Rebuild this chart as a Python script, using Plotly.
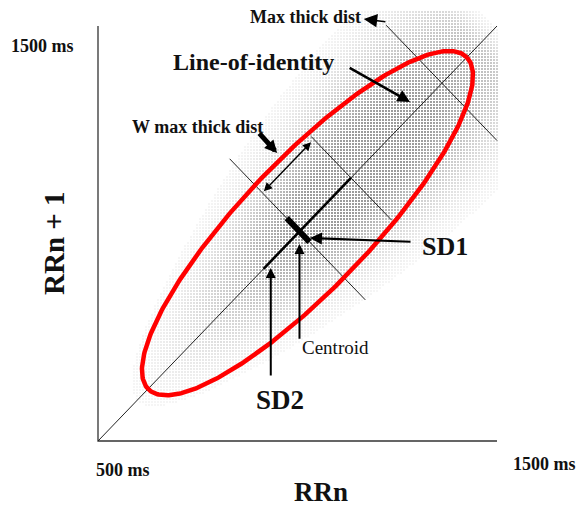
import numpy as np
import plotly.graph_objects as go

# Poincaré plot schematic: RR interval n against RR interval n+1 (ms)
AXIS_MIN, AXIS_MAX = 500, 1500
identity_ends = [500, 1500]

# centroid position along the line of identity (ms)
centroid_ms = 1005

# cross-lines perpendicular to the identity line: position along the line,
# and signed half-lengths toward the upper-left (+) and lower-right (-)
cross_pos = [1005, 1134, 1362]
cross_up = [175, 100, 140]
cross_down = [-165, -102, -138]

# highlighted stretch of the identity line (SD2 direction)
sd2_span = [915, 1134]
# SD1 bar across the centroid (perpendicular offsets)
sd1_span = [32, -25]
# "W max thick dist" measure, parallel to the identity line
w_offset = 93
w_span = [1005, 1127]

# fitted ellipse
ellipse_center = [1025, 1025]
ellipse_axes = [565, 158]      # semi-major, semi-minor
ellipse_angle_deg = 45

# page geometry: the plot area covers the whole page, origin of the
# RR axes sits at pixel (98, 441)
W, H = 577, 506
ORIGIN_PX = (98, 441)
PX_PER_MS = (0.399, 0.415)
x_range = [AXIS_MIN - ORIGIN_PX[0] / PX_PER_MS[0], AXIS_MIN + (W - ORIGIN_PX[0]) / PX_PER_MS[0]]
y_range = [AXIS_MIN - (H - ORIGIN_PX[1]) / PX_PER_MS[1], AXIS_MIN + ORIGIN_PX[1] / PX_PER_MS[1]]


def on_identity(t, d=0.0):
    """Point at position t along the identity line, offset d perpendicular."""
    return t - d, t + d


fig = go.Figure()

# --- halftone shading of the RR scatter cloud ---------------------------
gx = np.arange(AXIS_MIN, AXIS_MAX + 1, 3 / PX_PER_MS[0])
gy = np.arange(AXIS_MIN, AXIS_MAX + 40, 3 / PX_PER_MS[1])
GX, GY = np.meshgrid(gx, gy)
T = (GX + GY) / 2
D = (GY - GX) / 2
spread = np.clip(76 + (T - centroid_ms) * 0.05, 35, 92)
dens = np.exp(-0.5 * ((T - 1160) / 250) ** 2) * np.exp(-0.5 * (D / spread) ** 2)
dens = dens * np.where(T > 1440, np.exp(-((T - 1440) / 45) ** 2), 1.0)
keep = dens > 0.08
fig.add_trace(go.Scatter(
    x=GX[keep], y=GY[keep], mode="markers",
    marker=dict(symbol="square", size=1.5, color="#000",
                opacity=np.clip(dens[keep] * 0.85, 0, 0.7).tolist(),
                line=dict(width=0)),
    hoverinfo="skip", showlegend=False))

# --- axes -----------------------------------------------------------------
fig.add_trace(go.Scatter(x=[AXIS_MIN, AXIS_MIN, AXIS_MAX], y=[AXIS_MAX, AXIS_MIN, AXIS_MIN],
                         mode="lines", line=dict(color="#333", width=1.3),
                         hoverinfo="skip", showlegend=False))

# --- line of identity -----------------------------------------------------
fig.add_trace(go.Scatter(x=identity_ends, y=identity_ends, mode="lines",
                         line=dict(color="#222", width=1), hoverinfo="skip", showlegend=False))
fig.add_trace(go.Scatter(x=sd2_span, y=sd2_span, mode="lines",
                         line=dict(color="#000", width=2.6), hoverinfo="skip", showlegend=False))

# --- perpendicular cross-lines --------------------------------------------
for t, up, dn in zip(cross_pos, cross_up, cross_down):
    x0, y0 = on_identity(t, up)
    x1, y1 = on_identity(t, dn)
    fig.add_trace(go.Scatter(x=[x0, x1], y=[y0, y1], mode="lines",
                             line=dict(color="#222", width=1), hoverinfo="skip", showlegend=False))

# --- SD1 bar ----------------------------------------------------------------
p0 = on_identity(centroid_ms, sd1_span[0])
p1 = on_identity(centroid_ms, sd1_span[1])
fig.add_trace(go.Scatter(x=[p0[0], p1[0]], y=[p0[1], p1[1]], mode="lines",
                         line=dict(color="#000", width=6), hoverinfo="skip", showlegend=False))

# --- ellipse --------------------------------------------------------------
th = np.linspace(0, 2 * np.pi, 400)
ang = np.deg2rad(ellipse_angle_deg)
eu = ellipse_axes[0] * np.cos(th)
ev = ellipse_axes[1] * np.sin(th)
ex = ellipse_center[0] + eu * np.cos(ang) - ev * np.sin(ang)
ey = ellipse_center[1] + eu * np.sin(ang) + ev * np.cos(ang)
fig.add_trace(go.Scatter(x=ex, y=ey, mode="lines", line=dict(color="#ff0000", width=4.5),
                         hoverinfo="skip", showlegend=False))

# --- arrows -----------------------------------------------------------------
def arrow(head, tail, width=2.0, size=1.0, head_style=2, side="end"):
    fig.add_annotation(x=head[0], y=head[1], ax=tail[0], ay=tail[1],
                       xref="x", yref="y", axref="x", ayref="y", text="",
                       showarrow=True, arrowhead=head_style, arrowsize=size,
                       arrowwidth=width, arrowcolor="#000", arrowside=side,
                       standoff=0, startstandoff=0)


# SD1 pointer
arrow(on_identity(centroid_ms + 5, -21), (1287, 980), width=2.2, size=1.1)
# centroid pointer (vertical)
cx_ = on_identity(centroid_ms, 0)[0]
arrow((cx_, 975), (cx_, 743), width=2.0, size=1.0)
# SD2 pointer (vertical)
arrow((933, sd2_span[0] + 2), (933, 654), width=2.0, size=1.0)
# line-of-identity pointer
arrow((1282, 1317), (1127, 1401), width=2.5, size=1.0)
# max thick dist pointer
arrow((1166, 1517), (1224, 1510), width=1.5, size=1.8)
# W max thick dist: label pointer and double-headed measure
arrow((949, 1194), (901, 1245), width=5, size=0.5)
w0 = on_identity(w_span[0], w_offset)
w1 = on_identity(w_span[1], w_offset)
arrow(w1, w0, width=1.4, size=1.2, side="end+start")

# --- text labels (page pixel positions) -----------------------------------
SERIF = "Liberation Serif"


def label(text, px, py, size, bold=True, anchor="center", angle=0):
    fig.add_annotation(x=px / W, y=1 - py / H, xref="paper", yref="paper",
                       text=f"<b>{text}</b>" if bold else text, showarrow=False,
                       xanchor=anchor, yanchor="middle", textangle=angle,
                       font=dict(family=SERIF, size=size, color="#111"))


label("1500 ms", 42, 46, 18)
label("500 ms", 123, 470, 18)
label("1500 ms", 544, 464, 18)
label("RRn", 321, 492, 27)
label("RRn + 1", 54, 243, 29, angle=-90)
label("Max thick dist", 305, 17, 18)
label("Line-of-identity", 253, 62, 24)
label("W max thick dist", 197, 127, 18)
label("SD1", 445, 246, 26)
label("SD2", 280, 400, 27)
label("Centroid", 300, 347, 19, bold=False, anchor="left")

fig.update_layout(
    width=W, height=H, margin=dict(l=0, r=0, t=0, b=0, pad=0),
    paper_bgcolor="white", plot_bgcolor="white", showlegend=False,
    xaxis=dict(range=x_range, visible=False, fixedrange=True),
    yaxis=dict(range=y_range, visible=False, fixedrange=True),
)

fig.write_html("out.html")
